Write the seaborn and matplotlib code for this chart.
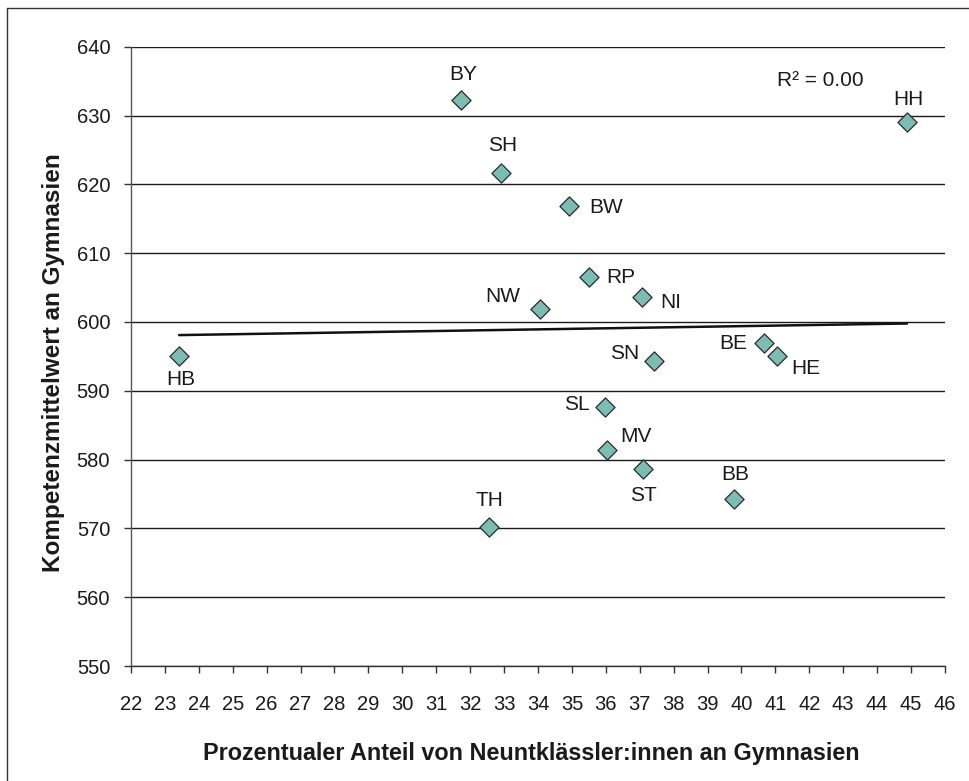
import numpy as np
import pandas as pd
import matplotlib
matplotlib.use("Agg")
import matplotlib.pyplot as plt
from matplotlib.lines import Line2D
import seaborn as sns

# Länderkürzel, Anteil Neuntklässler:innen an Gymnasien (%), Kompetenzmittelwert
laender = ["BY", "SH", "BW", "RP", "NW", "NI", "SN", "BE", "HE", "HH",
           "HB", "SL", "MV", "ST", "BB", "TH"]
anteil = [31.73, 32.90, 34.92, 35.51, 34.07, 37.06, 37.42, 40.66, 41.04, 44.88,
          23.42, 35.98, 36.04, 37.10, 39.78, 32.57]
mittelwert = [632.2, 621.6, 616.8, 606.6, 601.9, 603.6, 594.3, 596.9, 595.0, 629.0,
              595.0, 587.7, 581.4, 578.7, 574.3, 570.2]

x_ticks = list(range(22, 47))
y_ticks = list(range(550, 641, 10))

df = pd.DataFrame({"land": laender, "anteil": anteil, "wert": mittelwert})

sns.set_theme(style="white")
plt.rcParams["font.family"] = ["Liberation Sans", "DejaVu Sans"]

fig = plt.figure(figsize=(9.69, 7.81), dpi=100)
ax = fig.add_axes([0.1352, 0.1472, 0.8400, 0.7930])

# horizontal grid lines
for yv in y_ticks:
    ax.axhline(yv, color="#1a1a1a", lw=1.0, zorder=1)

# linear trend over the data range
sns.regplot(data=df, x="anteil", y="wert", scatter=False, ci=None, truncate=True,
            line_kws={"color": "#111111", "lw": 1.8, "zorder": 2}, ax=ax)

sns.scatterplot(data=df, x="anteil", y="wert", marker="D", s=95,
                color="#7bbdb4", edgecolor="#2a2a2a", linewidth=0.9,
                zorder=3, ax=ax, legend=False)

# label placement: (dx, dy) in pixels, ha, va
pos = {
    "BY": (2, 26, "center", "center"),
    "SH": (2, 28, "center", "center"),
    "BW": (20, -1, "left", "center"),
    "RP": (17, -1, "left", "center"),
    "NW": (-20, 12, "right", "center"),
    "NI": (18, -5, "left", "center"),
    "SN": (-15, 8, "right", "center"),
    "BE": (-17, 0, "right", "center"),
    "HE": (14, -12, "left", "center"),
    "HH": (1, 23, "center", "center"),
    "HB": (2, -23, "center", "center"),
    "SL": (-15, 2, "right", "center"),
    "MV": (13, 13, "left", "center"),
    "ST": (0, -27, "center", "center"),
    "BB": (1, 24, "center", "center"),
    "TH": (0, 27, "center", "center"),
}
for land, xv, yv in zip(laender, anteil, mittelwert):
    dx, dy, ha, va = pos[land]
    ax.annotate(land, (xv, yv), xytext=(dx, dy), textcoords="offset pixels",
                ha=ha, va=va, fontsize=15, color="#1a1a1a", zorder=4)

# coefficient of determination of the linear fit
r = np.corrcoef(anteil, mittelwert)[0, 1]
ax.text(0.794, 0.945, f"R² = {r**2:.2f}", transform=ax.transAxes,
        ha="left", va="center", fontsize=15, color="#1a1a1a")

ax.set_xlim(22, 46)
ax.set_ylim(550, 640)
ax.set_xticks(x_ticks)
ax.set_yticks(y_ticks)
ax.tick_params(axis="both", which="both", direction="out", length=5, width=1,
               color="#333333", labelsize=14.5, labelcolor="#1a1a1a",
               bottom=True, left=True)
ax.tick_params(axis="x", pad=16)
ax.tick_params(axis="y", pad=10)

for side in ["top", "right"]:
    ax.spines[side].set_visible(False)
ax.spines["left"].set_color("#555555")
ax.spines["left"].set_linewidth(1.0)
ax.spines["bottom"].set_color("#333333")
ax.spines["bottom"].set_linewidth(1.0)

ax.set_xlabel("Prozentualer Anteil von Neuntklässler:innen an Gymnasien",
              fontsize=16.8, fontweight="bold", color="#1a1a1a")
ax.set_ylabel("Kompetenzmittelwert an Gymnasien",
              fontsize=17.5, fontweight="bold", color="#1a1a1a")
ax.xaxis.set_label_coords(0.4912, -0.1405)
ax.yaxis.set_label_coords(-0.0958, 0.490)
ax.xaxis.label.set_va("center")
ax.yaxis.label.set_va("center")

# frame around the chart area
fig.add_artist(Line2D([7 / 969, 7 / 969], [0, 1 - 8 / 781], transform=fig.transFigure,
                      color="#333333", lw=1.0))
fig.add_artist(Line2D([7 / 969, 1], [1 - 8 / 781, 1 - 8 / 781], transform=fig.transFigure,
                      color="#333333", lw=1.0))

fig.savefig("out.png", dpi=100)
